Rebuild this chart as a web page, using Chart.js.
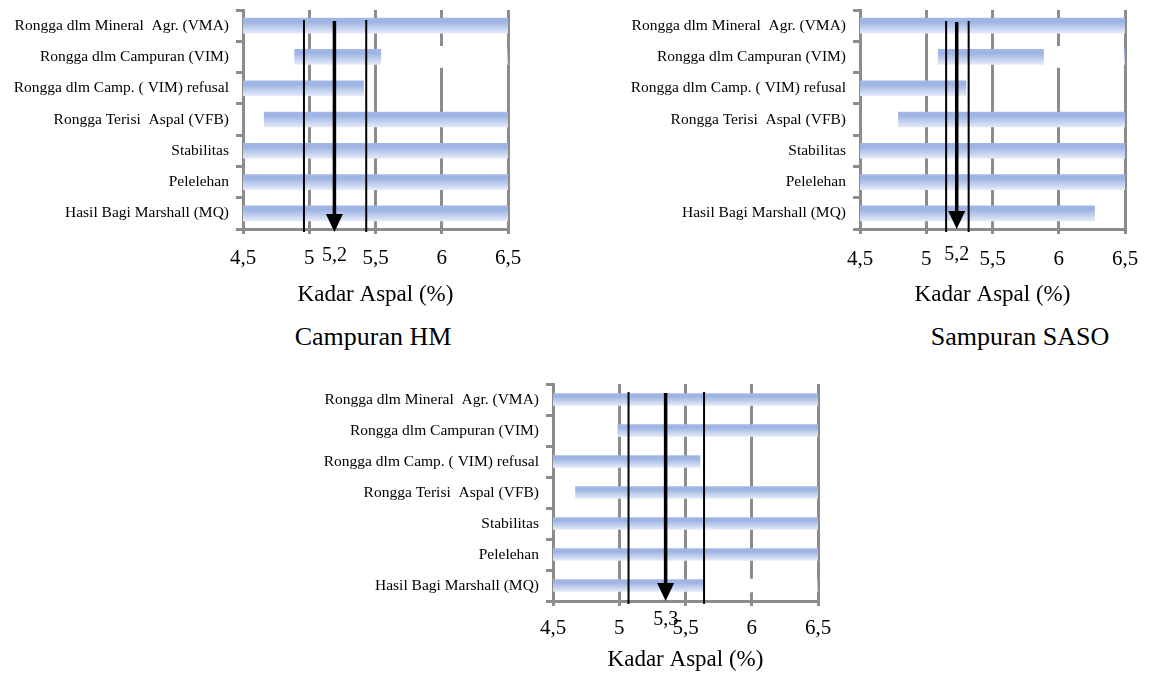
<!DOCTYPE html>
<html>
<head>
<meta charset="utf-8">
<script src="https://cdn.jsdelivr.net/npm/chart.js@4/dist/chart.umd.min.js"></script>
<style>
html,body{margin:0;padding:0;background:#fff;}
body{width:1153px;height:677px;position:relative;overflow:hidden;font-family:'Liberation Serif','Times New Roman',serif;}
canvas{position:absolute;}
.sub{position:absolute;font-size:26px;line-height:26px;color:#000;transform:translateX(-50%);white-space:nowrap;}
</style>
</head>
<body>
<canvas id="c1" width="540" height="320" style="left:0;top:0"></canvas>
<canvas id="c2" width="553" height="320" style="left:600px;top:0"></canvas>
<canvas id="c3" width="545" height="300" style="left:300px;top:374px"></canvas>
<div class="sub" style="left:373px;top:324px">Campuran HM</div>
<div class="sub" style="left:1020px;top:324px">Sampuran SASO</div>
<script>
// ---- data ----
const categories = [
  'Rongga dlm Mineral  Agr. (VMA)',
  'Rongga dlm Campuran (VIM)',
  'Rongga dlm Camp. ( VIM) refusal',
  'Rongga Terisi  Aspal (VFB)',
  'Stabilitas',
  'Pelelehan',
  'Hasil Bagi Marshall (MQ)'
];
const xTickLabels = ['4,5', '5', '5,5', '6', '6,5'];
const xTitle = 'Kadar Aspal (%)';

// Campuran HM
const hmStart = [4.5, 4.89, 4.5, 4.66, 4.5, 4.5, 4.5];
const hmEnd   = [6.5, 6.52, 5.41, 6.52, 6.5, 6.5, 6.5];
const hmMaskStart = [null, 5.545, null, null, null, null, null];
const hmMaskEnd   = [null, 6.49, null, null, null, null, null];
const hmBounds = [4.96, 5.43];
const hmOptimum = 5.19;
const hmOptimumLabel = '5,2';

// Sampuran SASO
const sasoStart = [4.5, 5.09, 4.5, 4.79, 4.5, 4.5, 4.5];
const sasoEnd   = [6.5, 6.52, 5.30, 6.52, 6.5, 6.5, 6.27];
const sasoMaskStart = [null, 5.89, null, null, null, null, null];
const sasoMaskEnd   = [null, 6.49, null, null, null, null, null];
const sasoBounds = [5.15, 5.32];
const sasoOptimum = 5.23;
const sasoOptimumLabel = '5,2';

// Third mix
const c3Start = [4.5, 4.99, 4.5, 4.67, 4.5, 4.5, 4.5];
const c3End   = [6.5, 6.52, 5.61, 6.52, 6.5, 6.5, 6.52];
const c3MaskStart = [null, null, null, null, null, null, 5.65];
const c3MaskEnd   = [null, null, null, null, null, null, 6.49];
const c3Bounds = [5.07, 5.64];
const c3Optimum = 5.35;
const c3OptimumLabel = '5,3';

// ---- drawing ----
const FONT = "'Liberation Serif','Times New Roman',serif";
const GRID = '#8C8C8C';

function gradientFill(ctx) {
  const chart = ctx.chart;
  const ys = chart.scales && chart.scales.y;
  if (!ys || ctx.type !== 'data') return '#A9BDE8';
  const t = ctx.dataset.barThickness;
  const yc = ys.getPixelForValue(ctx.dataIndex);
  if (!Number.isFinite(yc) || !Number.isFinite(t)) return '#A9BDE8';
  const g = chart.ctx.createLinearGradient(0, yc - t / 2, 0, yc + t / 2);
  g.addColorStop(0, '#A2B7E5');
  g.addColorStop(0.25, '#9DB3E3');
  g.addColorStop(1, '#E3EAF8');
  return g;
}

const markerPlugin = {
  id: 'markers',
  afterDatasetsDraw(chart, args, o) {
    const ctx = chart.ctx, ca = chart.chartArea, x = chart.scales.x;
    ctx.save();
    ctx.strokeStyle = '#000';
    ctx.fillStyle = '#000';
    ctx.lineWidth = 2;
    o.bounds.forEach(v => {
      const px = x.getPixelForValue(v);
      ctx.beginPath();
      ctx.moveTo(px, ca.top + o.lineTop);
      ctx.lineTo(px, ca.bottom + o.lineBottom);
      ctx.stroke();
    });
    const ax = x.getPixelForValue(o.optimum);
    const tip = ca.bottom + o.tip;
    ctx.lineWidth = 3.5;
    ctx.beginPath();
    ctx.moveTo(ax, ca.top + o.arrowTop);
    ctx.lineTo(ax, tip - 16);
    ctx.stroke();
    ctx.beginPath();
    ctx.moveTo(ax - 8.5, tip - 18);
    ctx.lineTo(ax + 8.5, tip - 18);
    ctx.lineTo(ax, tip);
    ctx.closePath();
    ctx.fill();
    ctx.font = '20px ' + FONT;
    ctx.textAlign = 'center';
    ctx.textBaseline = 'middle';
    ctx.fillText(o.label, ax, ca.bottom + o.labelDy);
    ctx.restore();
  }
};

function makeChart(id, c) {
  return new Chart(document.getElementById(id), {
    type: 'bar',
    plugins: [markerPlugin],
    data: {
      labels: categories,
      datasets: [
        {
          // white masking bar, drawn on top (lower order = drawn last)
          data: c.maskStart.map((s, i) => s == null ? null : [s, c.maskEnd[i]]),
          barThickness: c.maskT,
          backgroundColor: '#ffffff',
          borderWidth: 0,
          grouped: false,
          order: 0
        },
        {
          data: c.start.map((s, i) => [s, c.end[i]]),
          barThickness: c.barT,
          backgroundColor: gradientFill,
          borderWidth: 0,
          grouped: false,
          order: 1
        }
      ]
    },
    options: {
      responsive: false,
      animation: false,
      devicePixelRatio: 1,
      indexAxis: 'y',
      layout: { padding: { top: 10, right: c.padRight, left: 0, bottom: 0 } },
      plugins: {
        legend: { display: false },
        tooltip: { enabled: false },
        markers: {
          bounds: c.bounds, optimum: c.optimum, label: c.label,
          lineTop: c.lineTop, lineBottom: 3, arrowTop: c.lineTop + 1, tip: c.tip, labelDy: c.labelDy
        }
      },
      scales: {
        x: {
          type: 'linear', min: 4.5, max: 6.5, position: 'bottom',
          ticks: {
            stepSize: 0.5, autoSkip: false, maxRotation: 0,
            callback: (v, i) => xTickLabels[i],
            color: '#000', font: { family: FONT, size: 21 }, padding: c.tickPad
          },
          grid: { color: GRID, lineWidth: 3, tickLength: 5, drawTicks: true },
          border: { color: GRID, width: 3 },
          title: {
            display: true, text: xTitle, color: '#000',
            font: { family: FONT, size: 23 }, padding: { top: 0, bottom: c.titlePad }
          },
          afterFit: s => { s.height = c.xH; s.paddingLeft = 0; s.paddingRight = 0; }
        },
        y: {
          type: 'category', offset: true,
          ticks: { color: '#000', font: { family: FONT, size: 15.5 }, padding: 7, autoSkip: false },
          grid: { offset: true, drawOnChartArea: false, color: GRID, lineWidth: 3, tickLength: 7 },
          border: { color: GRID, width: 3 },
          afterFit: s => { s.width = c.yW; s.paddingTop = 0; s.paddingBottom = 0; }
        }
      }
    }
  });
}

makeChart('c1', {
  start: hmStart, end: hmEnd, maskStart: hmMaskStart, maskEnd: hmMaskEnd,
  bounds: hmBounds, optimum: hmOptimum, label: hmOptimumLabel,
  barT: 15, maskT: 21, padRight: 32, yW: 243, xH: 91, tickPad: 11.4, titlePad: 11.2,
  lineTop: 10, tip: 3, labelDy: 27
});
makeChart('c2', {
  start: sasoStart, end: sasoEnd, maskStart: sasoMaskStart, maskEnd: sasoMaskEnd,
  bounds: sasoBounds, optimum: sasoOptimum, label: sasoOptimumLabel,
  barT: 15, maskT: 21, padRight: 28, yW: 260, xH: 91, tickPad: 12.4, titlePad: 11.2,
  lineTop: 11, tip: 0, labelDy: 26
});
makeChart('c3', {
  start: c3Start, end: c3End, maskStart: c3MaskStart, maskEnd: c3MaskEnd,
  bounds: c3Bounds, optimum: c3Optimum, label: c3OptimumLabel,
  barT: 12, maskT: 13, padRight: 27, yW: 253, xH: 73, tickPad: 9.4, titlePad: 0.2,
  lineTop: 8, tip: 0, labelDy: 19
});
</script>
</body>
</html>
